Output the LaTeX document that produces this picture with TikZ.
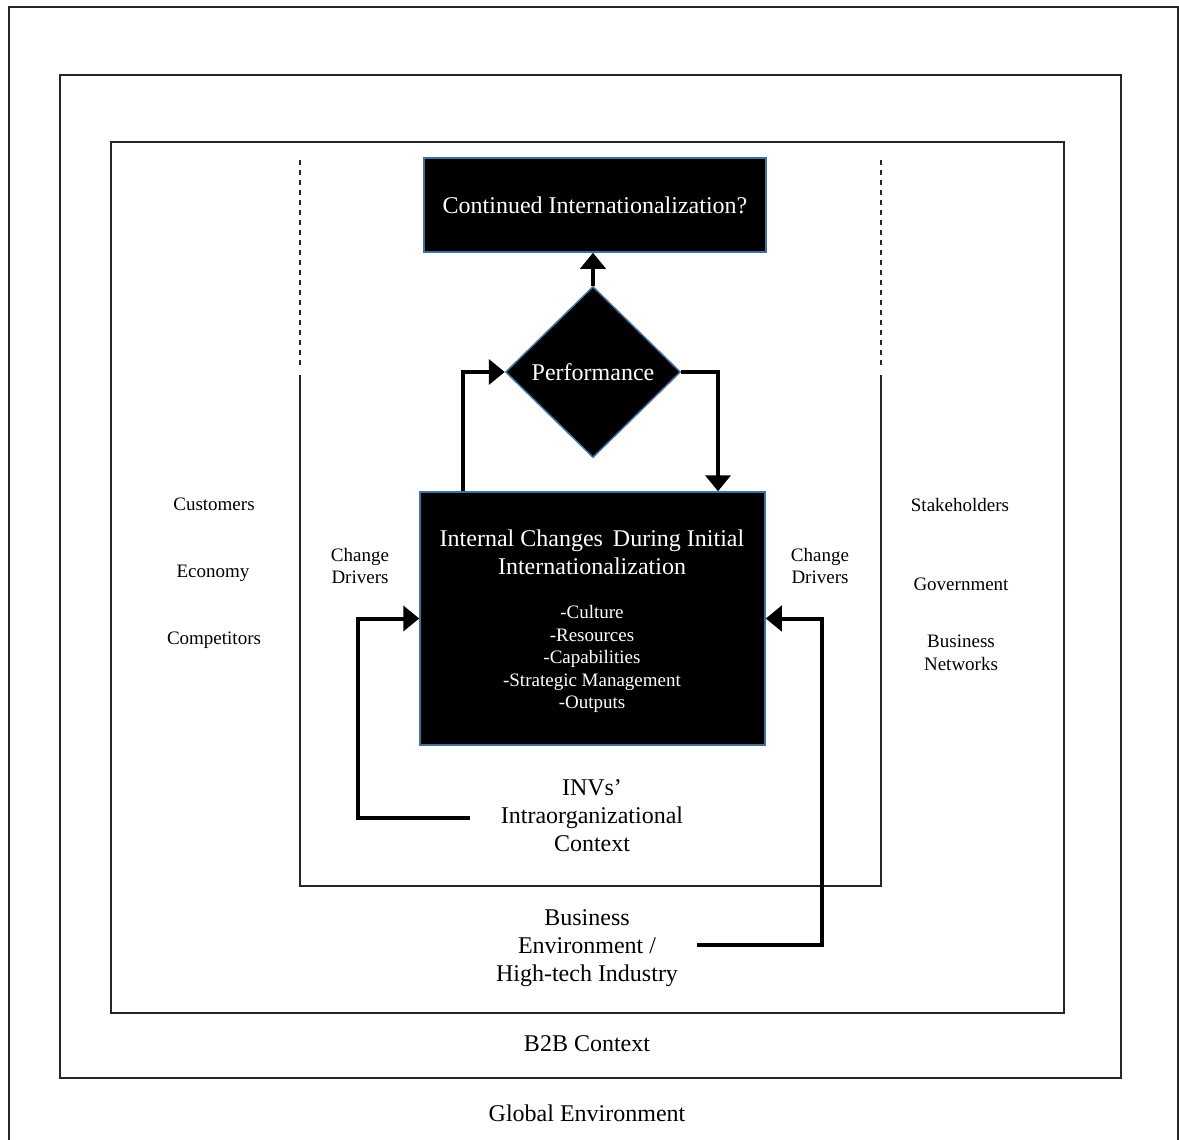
\documentclass[tikz,border=0pt]{standalone}
\usepackage{fontspec}
\setmainfont{Liberation Serif}
\usetikzlibrary{shapes.geometric,arrows.meta}

\definecolor{boxedge}{HTML}{41719C}

\tikzset{
  frame/.style={draw=black!85, line width=1.5pt},
  dashframe/.style={draw=black!85, line width=1.3pt, dash pattern=on 5pt off 5pt},
  darkbox/.style={draw=boxedge, line width=1.5pt, fill=black, text=white, inner sep=0pt},
  flow/.style={line width=4pt, -{Triangle[length=16pt,width=25pt]}},
  big/.style={font=\fontsize{24}{28}\selectfont, align=center, inner sep=0pt},
  small/.style={font=\fontsize{19}{22.5}\selectfont, align=center, inner sep=0pt},
}

\begin{document}
\begin{tikzpicture}[x=1pt,y=-1pt]
\useasboundingbox (0,0) rectangle (1179,1140);

% nested context frames
\draw[frame] (9,1140) -- (9,7) -- (1178,7) -- (1178,1140);
\draw[frame] (60,75) rectangle (1121,1078);
\draw[frame] (111,142) rectangle (1064,1013);

% intraorganizational context: dashed upper part, solid lower part
\draw[dashframe] (300,160) -- (300,370);
\draw[dashframe] (881,160) -- (881,370);
\draw[frame] (300,375) -- (300,886) -- (881,886) -- (881,375);

% core elements
\node[darkbox, minimum width=342pt, minimum height=94pt, big] (cont) at (595,205)
  {Continued Internationalization?};
\node[darkbox, shape=diamond, minimum width=175pt, minimum height=171pt, big] (perf) at (593,372)
  {Performance};
\node[darkbox, minimum width=345pt, minimum height=253pt] (chg) at (592.5,618.5) {};
\node[big, text=white] (chgtitle) at (592,552)
  {Internal Changes\, During Initial\\Internationalization};
\node[small, text=white] (chglist) at (592,659)
  {-Culture\\-Resources\\-Capabilities\\-Strategic Management\\-Outputs};

% outer labels
\node[small] (cust) at (214,504) {Customers};
\node[small] (econ) at (213,573) {Economy};
\node[small] (comp) at (214,640) {Competitors};
\node[small] (stake) at (960,505) {Stakeholders};
\node[small] (gov) at (961,584) {Government};
\node[small] (bnet) at (961,653) {Business\\Networks};
\node[small] (cdl) at (360,566) {Change\\Drivers};
\node[small] (cdr) at (820,566) {Change\\Drivers};

\node[big] (invs) at (592,816) {INVs'\\Intraorganizational\\Context};
\node[big] (benv) at (587,948) {Business\\Environment /\\High-tech Industry};
\node[big] (b2b) at (587,1044) {B2B Context};
\node[big] (glob) at (587,1113) {Global Environment};

% flows
\draw[flow] (perf.north) -- (perf.north |- cont.south);
\draw[flow] ([xshift=-129.5pt]chg.north) |- (perf.west);
\draw[flow] (perf.east) -| ([xshift=125.5pt]chg.north);

\coordinate (invsend) at (470,818);
\coordinate (benvend) at (697,945);
\draw[flow] (invsend) -- (358,818) |- (chg.west);
\draw[flow] (benvend) -- (822,945) |- (chg.east);
\end{tikzpicture}
\end{document}
